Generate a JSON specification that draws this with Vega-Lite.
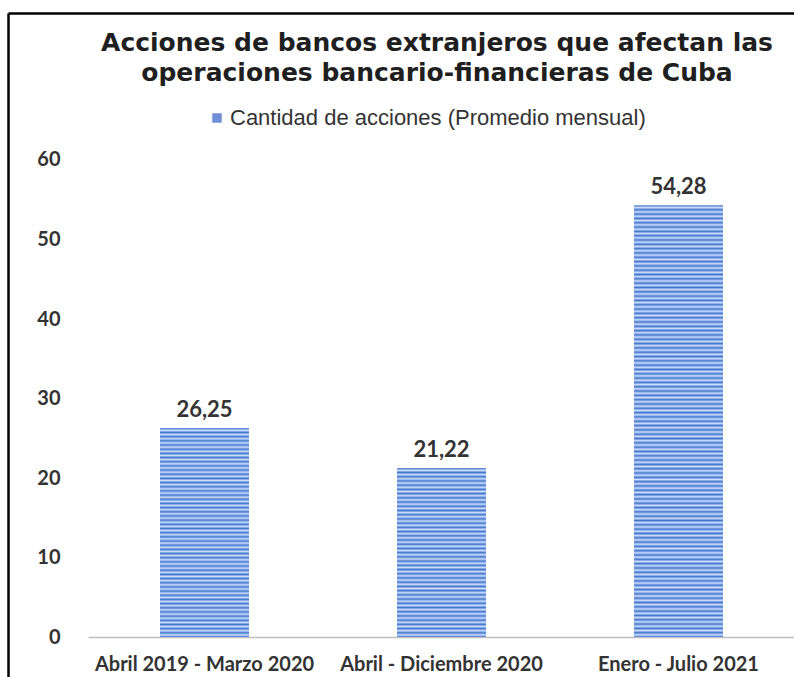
{
 "$schema": "https://vega.github.io/schema/vega-lite/v6.json",
 "width": 786,
 "height": 664,
 "autosize": {"type": "none"},
 "padding": {"left": 8, "top": 13, "right": 0, "bottom": 0},
 "background": "#ffffff",
 "config": {
  "locale": {"number": {"decimal": ",", "thousands": ".", "grouping": [3], "currency": ["", " €"]}},
  "view": {"stroke": null}
 },
 "title": {
  "text": ["Acciones de bancos extranjeros que afectan las", "operaciones bancario-financieras de Cuba"],
  "font": "DejaVu Sans", "fontSize": 25, "fontWeight": "bold", "color": "#1f1f1f",
  "anchor": "middle", "frame": "group", "offset": -83, "lineHeight": 30, "dx": 36
 },
 "data": {"values": [
  {"periodo": "Abril 2019 - Marzo 2020", "acciones": 26.25},
  {"periodo": "Abril - Diciembre 2020", "acciones": 21.22},
  {"periodo": "Enero - Julio 2021", "acciones": 54.28}
 ]},
 "encoding": {
  "x": {"field": "periodo", "type": "nominal", "sort": null,
   "scale": {"domain": ["Abril 2019 - Marzo 2020", "Abril - Diciembre 2020", "Enero - Julio 2021"], "paddingInner": 0.6245, "paddingOuter": 0.4705, "align": 0.6816},
   "axis": {"title": null, "orient": "bottom", "offset": -40, "domain": false, "ticks": false, "tickSize": 0,
    "labelPadding": 17, "labelAngle": 0, "labelFont": "Lato", "labelFontSize": 20, "labelFontWeight": "bold",
    "labelColor": "#333333", "labelBaseline": "top", "labelLimit": 300}},
  "y": {"field": "acciones", "type": "quantitative",
   "scale": {"domain": [-5.03, 78.49], "nice": false, "zero": false},
   "axis": {"title": null, "values": [0, 10, 20, 30, 40, 50, 60, 78.49],
    "labelExpr": "datum.value > 70 ? '' : datum.label",
    "domain": true, "domainColor": "#000000", "domainWidth": 2.5, "ticks": false, "tickSize": 0,
    "labelPadding": -52, "labelFont": "Lato", "labelFontSize": 20, "labelFontWeight": "bold", "labelColor": "#333333",
    "labelFlush": false, "labelOverlap": false,
    "grid": true,
    "gridColor": {"condition": [{"test": "datum.value > 70", "value": "#000000"}, {"test": "datum.value === 0", "value": "#bfbfbf"}], "value": "transparent"},
    "gridWidth": {"condition": {"test": "datum.value > 70", "value": 2.5}, "value": 1.5},
    "gridDash": {"condition": {"test": "datum.value === 0", "value": [0, 80, 706]}, "value": []}}}
 },
 "layer": [
  {
   "mark": {"type": "bar"},
   "encoding": {
    "y2": {"datum": 0},
    "color": {"datum": "Cantidad de acciones (Promedio mensual)", "type": "nominal",
     "scale": {"range": ["#6f8fd8"]},
     "legend": {"orient": "none", "legendX": 198, "legendY": 94, "title": null, "symbolType": "square", "symbolSize": 90,
      "symbolStrokeWidth": 0, "labelFont": "Liberation Sans", "labelFontSize": 22, "labelColor": "#333333",
      "labelOffset": 2, "padding": 0, "labelLimit": 600}}
   }
  },
  {
   "mark": {"type": "bar", "strokeWidth": 0},
   "encoding": {
    "y2": {"datum": 0},
    "fill": {
     "condition": [
      {"test": "datum.periodo === 'Abril 2019 - Marzo 2020'", "value": {"gradient": "linear", "x1": 0, "y1": 0, "x2": 0, "y2": 1, "stops": [
{"offset":0,"color":"#47c"},{"offset":0.01,"color":"#cdf"},{"offset":0.02,"color":"#47c"},{"offset":0.03,"color":"#cdf"},{"offset":0.04,"color":"#47c"},{"offset":0.05,"color":"#cdf"},{"offset":0.06,"color":"#47c"},{"offset":0.07,"color":"#cdf"},{"offset":0.08,"color":"#47c"},{"offset":0.09,"color":"#cdf"},
{"offset":0.1,"color":"#47c"},{"offset":0.11,"color":"#cdf"},{"offset":0.12,"color":"#47c"},{"offset":0.13,"color":"#cdf"},{"offset":0.14,"color":"#47c"},{"offset":0.15,"color":"#cdf"},{"offset":0.16,"color":"#47c"},{"offset":0.17,"color":"#cdf"},{"offset":0.18,"color":"#47c"},{"offset":0.19,"color":"#cdf"},
{"offset":0.2,"color":"#47c"},{"offset":0.21,"color":"#cdf"},{"offset":0.22,"color":"#47c"},{"offset":0.23,"color":"#cdf"},{"offset":0.24,"color":"#47c"},{"offset":0.25,"color":"#cdf"},{"offset":0.26,"color":"#47c"},{"offset":0.27,"color":"#cdf"},{"offset":0.28,"color":"#47c"},{"offset":0.29,"color":"#cdf"},
{"offset":0.3,"color":"#47c"},{"offset":0.31,"color":"#cdf"},{"offset":0.32,"color":"#47c"},{"offset":0.33,"color":"#cdf"},{"offset":0.34,"color":"#47c"},{"offset":0.35,"color":"#cdf"},{"offset":0.36,"color":"#47c"},{"offset":0.37,"color":"#cdf"},{"offset":0.38,"color":"#47c"},{"offset":0.39,"color":"#cdf"},
{"offset":0.4,"color":"#47c"},{"offset":0.41,"color":"#cdf"},{"offset":0.42,"color":"#47c"},{"offset":0.43,"color":"#cdf"},{"offset":0.44,"color":"#47c"},{"offset":0.45,"color":"#cdf"},{"offset":0.46,"color":"#47c"},{"offset":0.47,"color":"#cdf"},{"offset":0.48,"color":"#47c"},{"offset":0.49,"color":"#cdf"},
{"offset":0.5,"color":"#47c"},{"offset":0.51,"color":"#cdf"},{"offset":0.52,"color":"#47c"},{"offset":0.53,"color":"#cdf"},{"offset":0.54,"color":"#47c"},{"offset":0.55,"color":"#cdf"},{"offset":0.56,"color":"#47c"},{"offset":0.57,"color":"#cdf"},{"offset":0.58,"color":"#47c"},{"offset":0.59,"color":"#cdf"},
{"offset":0.6,"color":"#47c"},{"offset":0.61,"color":"#cdf"},{"offset":0.62,"color":"#47c"},{"offset":0.63,"color":"#cdf"},{"offset":0.64,"color":"#47c"},{"offset":0.65,"color":"#cdf"},{"offset":0.66,"color":"#47c"},{"offset":0.67,"color":"#cdf"},{"offset":0.68,"color":"#47c"},{"offset":0.69,"color":"#cdf"},
{"offset":0.7,"color":"#47c"},{"offset":0.71,"color":"#cdf"},{"offset":0.72,"color":"#47c"},{"offset":0.73,"color":"#cdf"},{"offset":0.74,"color":"#47c"},{"offset":0.75,"color":"#cdf"},{"offset":0.76,"color":"#47c"},{"offset":0.77,"color":"#cdf"},{"offset":0.78,"color":"#47c"},{"offset":0.79,"color":"#cdf"},
{"offset":0.8,"color":"#47c"},{"offset":0.81,"color":"#cdf"},{"offset":0.82,"color":"#47c"},{"offset":0.83,"color":"#cdf"},{"offset":0.84,"color":"#47c"},{"offset":0.85,"color":"#cdf"},{"offset":0.86,"color":"#47c"},{"offset":0.87,"color":"#cdf"},{"offset":0.88,"color":"#47c"},{"offset":0.89,"color":"#cdf"},
{"offset":0.9,"color":"#47c"},{"offset":0.91,"color":"#cdf"},{"offset":0.92,"color":"#47c"},{"offset":0.93,"color":"#cdf"},{"offset":0.94,"color":"#47c"},{"offset":0.95,"color":"#cdf"},{"offset":0.96,"color":"#47c"},{"offset":0.97,"color":"#cdf"},{"offset":0.98,"color":"#47c"},{"offset":0.99,"color":"#cdf"},
{"offset":1,"color":"#47c"}
      ]}},
      {"test": "datum.periodo === 'Abril - Diciembre 2020'", "value": {"gradient": "linear", "x1": 0, "y1": 0, "x2": 0, "y2": 1, "stops": [
{"offset":0,"color":"#47c"},{"offset":0.0125,"color":"#cdf"},{"offset":0.025,"color":"#47c"},{"offset":0.0375,"color":"#cdf"},{"offset":0.05,"color":"#47c"},{"offset":0.0625,"color":"#cdf"},{"offset":0.075,"color":"#47c"},{"offset":0.0875,"color":"#cdf"},
{"offset":0.1,"color":"#47c"},{"offset":0.1125,"color":"#cdf"},{"offset":0.125,"color":"#47c"},{"offset":0.1375,"color":"#cdf"},{"offset":0.15,"color":"#47c"},{"offset":0.1625,"color":"#cdf"},{"offset":0.175,"color":"#47c"},{"offset":0.1875,"color":"#cdf"},
{"offset":0.2,"color":"#47c"},{"offset":0.2125,"color":"#cdf"},{"offset":0.225,"color":"#47c"},{"offset":0.2375,"color":"#cdf"},{"offset":0.25,"color":"#47c"},{"offset":0.2625,"color":"#cdf"},{"offset":0.275,"color":"#47c"},{"offset":0.2875,"color":"#cdf"},
{"offset":0.3,"color":"#47c"},{"offset":0.3125,"color":"#cdf"},{"offset":0.325,"color":"#47c"},{"offset":0.3375,"color":"#cdf"},{"offset":0.35,"color":"#47c"},{"offset":0.3625,"color":"#cdf"},{"offset":0.375,"color":"#47c"},{"offset":0.3875,"color":"#cdf"},
{"offset":0.4,"color":"#47c"},{"offset":0.4125,"color":"#cdf"},{"offset":0.425,"color":"#47c"},{"offset":0.4375,"color":"#cdf"},{"offset":0.45,"color":"#47c"},{"offset":0.4625,"color":"#cdf"},{"offset":0.475,"color":"#47c"},{"offset":0.4875,"color":"#cdf"},
{"offset":0.5,"color":"#47c"},{"offset":0.5125,"color":"#cdf"},{"offset":0.525,"color":"#47c"},{"offset":0.5375,"color":"#cdf"},{"offset":0.55,"color":"#47c"},{"offset":0.5625,"color":"#cdf"},{"offset":0.575,"color":"#47c"},{"offset":0.5875,"color":"#cdf"},
{"offset":0.6,"color":"#47c"},{"offset":0.6125,"color":"#cdf"},{"offset":0.625,"color":"#47c"},{"offset":0.6375,"color":"#cdf"},{"offset":0.65,"color":"#47c"},{"offset":0.6625,"color":"#cdf"},{"offset":0.675,"color":"#47c"},{"offset":0.6875,"color":"#cdf"},
{"offset":0.7,"color":"#47c"},{"offset":0.7125,"color":"#cdf"},{"offset":0.725,"color":"#47c"},{"offset":0.7375,"color":"#cdf"},{"offset":0.75,"color":"#47c"},{"offset":0.7625,"color":"#cdf"},{"offset":0.775,"color":"#47c"},{"offset":0.7875,"color":"#cdf"},
{"offset":0.8,"color":"#47c"},{"offset":0.8125,"color":"#cdf"},{"offset":0.825,"color":"#47c"},{"offset":0.8375,"color":"#cdf"},{"offset":0.85,"color":"#47c"},{"offset":0.8625,"color":"#cdf"},{"offset":0.875,"color":"#47c"},{"offset":0.8875,"color":"#cdf"},
{"offset":0.9,"color":"#47c"},{"offset":0.9125,"color":"#cdf"},{"offset":0.925,"color":"#47c"},{"offset":0.9375,"color":"#cdf"},{"offset":0.95,"color":"#47c"},{"offset":0.9625,"color":"#cdf"},{"offset":0.975,"color":"#47c"},{"offset":0.9875,"color":"#cdf"},
{"offset":1,"color":"#47c"}
      ]}}
     ],
     "value": {"gradient": "linear", "x1": 0, "y1": 0, "x2": 0, "y2": 1, "stops": [
{"offset":0,"color":"#47c"},{"offset":0.005,"color":"#cdf"},{"offset":0.01,"color":"#47c"},{"offset":0.015,"color":"#cdf"},{"offset":0.02,"color":"#47c"},{"offset":0.025,"color":"#cdf"},{"offset":0.03,"color":"#47c"},{"offset":0.035,"color":"#cdf"},{"offset":0.04,"color":"#47c"},{"offset":0.045,"color":"#cdf"},
{"offset":0.05,"color":"#47c"},{"offset":0.055,"color":"#cdf"},{"offset":0.06,"color":"#47c"},{"offset":0.065,"color":"#cdf"},{"offset":0.07,"color":"#47c"},{"offset":0.075,"color":"#cdf"},{"offset":0.08,"color":"#47c"},{"offset":0.085,"color":"#cdf"},{"offset":0.09,"color":"#47c"},{"offset":0.095,"color":"#cdf"},
{"offset":0.1,"color":"#47c"},{"offset":0.105,"color":"#cdf"},{"offset":0.11,"color":"#47c"},{"offset":0.115,"color":"#cdf"},{"offset":0.12,"color":"#47c"},{"offset":0.125,"color":"#cdf"},{"offset":0.13,"color":"#47c"},{"offset":0.135,"color":"#cdf"},{"offset":0.14,"color":"#47c"},{"offset":0.145,"color":"#cdf"},
{"offset":0.15,"color":"#47c"},{"offset":0.155,"color":"#cdf"},{"offset":0.16,"color":"#47c"},{"offset":0.165,"color":"#cdf"},{"offset":0.17,"color":"#47c"},{"offset":0.175,"color":"#cdf"},{"offset":0.18,"color":"#47c"},{"offset":0.185,"color":"#cdf"},{"offset":0.19,"color":"#47c"},{"offset":0.195,"color":"#cdf"},
{"offset":0.2,"color":"#47c"},{"offset":0.205,"color":"#cdf"},{"offset":0.21,"color":"#47c"},{"offset":0.215,"color":"#cdf"},{"offset":0.22,"color":"#47c"},{"offset":0.225,"color":"#cdf"},{"offset":0.23,"color":"#47c"},{"offset":0.235,"color":"#cdf"},{"offset":0.24,"color":"#47c"},{"offset":0.245,"color":"#cdf"},
{"offset":0.25,"color":"#47c"},{"offset":0.255,"color":"#cdf"},{"offset":0.26,"color":"#47c"},{"offset":0.265,"color":"#cdf"},{"offset":0.27,"color":"#47c"},{"offset":0.275,"color":"#cdf"},{"offset":0.28,"color":"#47c"},{"offset":0.285,"color":"#cdf"},{"offset":0.29,"color":"#47c"},{"offset":0.295,"color":"#cdf"},
{"offset":0.3,"color":"#47c"},{"offset":0.305,"color":"#cdf"},{"offset":0.31,"color":"#47c"},{"offset":0.315,"color":"#cdf"},{"offset":0.32,"color":"#47c"},{"offset":0.325,"color":"#cdf"},{"offset":0.33,"color":"#47c"},{"offset":0.335,"color":"#cdf"},{"offset":0.34,"color":"#47c"},{"offset":0.345,"color":"#cdf"},
{"offset":0.35,"color":"#47c"},{"offset":0.355,"color":"#cdf"},{"offset":0.36,"color":"#47c"},{"offset":0.365,"color":"#cdf"},{"offset":0.37,"color":"#47c"},{"offset":0.375,"color":"#cdf"},{"offset":0.38,"color":"#47c"},{"offset":0.385,"color":"#cdf"},{"offset":0.39,"color":"#47c"},{"offset":0.395,"color":"#cdf"},
{"offset":0.4,"color":"#47c"},{"offset":0.405,"color":"#cdf"},{"offset":0.41,"color":"#47c"},{"offset":0.415,"color":"#cdf"},{"offset":0.42,"color":"#47c"},{"offset":0.425,"color":"#cdf"},{"offset":0.43,"color":"#47c"},{"offset":0.435,"color":"#cdf"},{"offset":0.44,"color":"#47c"},{"offset":0.445,"color":"#cdf"},
{"offset":0.45,"color":"#47c"},{"offset":0.455,"color":"#cdf"},{"offset":0.46,"color":"#47c"},{"offset":0.465,"color":"#cdf"},{"offset":0.47,"color":"#47c"},{"offset":0.475,"color":"#cdf"},{"offset":0.48,"color":"#47c"},{"offset":0.485,"color":"#cdf"},{"offset":0.49,"color":"#47c"},{"offset":0.495,"color":"#cdf"},
{"offset":0.5,"color":"#47c"},{"offset":0.505,"color":"#cdf"},{"offset":0.51,"color":"#47c"},{"offset":0.515,"color":"#cdf"},{"offset":0.52,"color":"#47c"},{"offset":0.525,"color":"#cdf"},{"offset":0.53,"color":"#47c"},{"offset":0.535,"color":"#cdf"},{"offset":0.54,"color":"#47c"},{"offset":0.545,"color":"#cdf"},
{"offset":0.55,"color":"#47c"},{"offset":0.555,"color":"#cdf"},{"offset":0.56,"color":"#47c"},{"offset":0.565,"color":"#cdf"},{"offset":0.57,"color":"#47c"},{"offset":0.575,"color":"#cdf"},{"offset":0.58,"color":"#47c"},{"offset":0.585,"color":"#cdf"},{"offset":0.59,"color":"#47c"},{"offset":0.595,"color":"#cdf"},
{"offset":0.6,"color":"#47c"},{"offset":0.605,"color":"#cdf"},{"offset":0.61,"color":"#47c"},{"offset":0.615,"color":"#cdf"},{"offset":0.62,"color":"#47c"},{"offset":0.625,"color":"#cdf"},{"offset":0.63,"color":"#47c"},{"offset":0.635,"color":"#cdf"},{"offset":0.64,"color":"#47c"},{"offset":0.645,"color":"#cdf"},
{"offset":0.65,"color":"#47c"},{"offset":0.655,"color":"#cdf"},{"offset":0.66,"color":"#47c"},{"offset":0.665,"color":"#cdf"},{"offset":0.67,"color":"#47c"},{"offset":0.675,"color":"#cdf"},{"offset":0.68,"color":"#47c"},{"offset":0.685,"color":"#cdf"},{"offset":0.69,"color":"#47c"},{"offset":0.695,"color":"#cdf"},
{"offset":0.7,"color":"#47c"},{"offset":0.705,"color":"#cdf"},{"offset":0.71,"color":"#47c"},{"offset":0.715,"color":"#cdf"},{"offset":0.72,"color":"#47c"},{"offset":0.725,"color":"#cdf"},{"offset":0.73,"color":"#47c"},{"offset":0.735,"color":"#cdf"},{"offset":0.74,"color":"#47c"},{"offset":0.745,"color":"#cdf"},
{"offset":0.75,"color":"#47c"},{"offset":0.755,"color":"#cdf"},{"offset":0.76,"color":"#47c"},{"offset":0.765,"color":"#cdf"},{"offset":0.77,"color":"#47c"},{"offset":0.775,"color":"#cdf"},{"offset":0.78,"color":"#47c"},{"offset":0.785,"color":"#cdf"},{"offset":0.79,"color":"#47c"},{"offset":0.795,"color":"#cdf"},
{"offset":0.8,"color":"#47c"},{"offset":0.805,"color":"#cdf"},{"offset":0.81,"color":"#47c"},{"offset":0.815,"color":"#cdf"},{"offset":0.82,"color":"#47c"},{"offset":0.825,"color":"#cdf"},{"offset":0.83,"color":"#47c"},{"offset":0.835,"color":"#cdf"},{"offset":0.84,"color":"#47c"},{"offset":0.845,"color":"#cdf"},
{"offset":0.85,"color":"#47c"},{"offset":0.855,"color":"#cdf"},{"offset":0.86,"color":"#47c"},{"offset":0.865,"color":"#cdf"},{"offset":0.87,"color":"#47c"},{"offset":0.875,"color":"#cdf"},{"offset":0.88,"color":"#47c"},{"offset":0.885,"color":"#cdf"},{"offset":0.89,"color":"#47c"},{"offset":0.895,"color":"#cdf"},
{"offset":0.9,"color":"#47c"},{"offset":0.905,"color":"#cdf"},{"offset":0.91,"color":"#47c"},{"offset":0.915,"color":"#cdf"},{"offset":0.92,"color":"#47c"},{"offset":0.925,"color":"#cdf"},{"offset":0.93,"color":"#47c"},{"offset":0.935,"color":"#cdf"},{"offset":0.94,"color":"#47c"},{"offset":0.945,"color":"#cdf"},
{"offset":0.95,"color":"#47c"},{"offset":0.955,"color":"#cdf"},{"offset":0.96,"color":"#47c"},{"offset":0.965,"color":"#cdf"},{"offset":0.97,"color":"#47c"},{"offset":0.975,"color":"#cdf"},{"offset":0.98,"color":"#47c"},{"offset":0.985,"color":"#cdf"},{"offset":0.99,"color":"#47c"},{"offset":0.995,"color":"#cdf"},
{"offset":1,"color":"#47c"}
     ]}
    }
   }
  },
  {
   "mark": {"type": "text", "baseline": "bottom", "dy": -6, "font": "Lato", "fontSize": 22, "fontWeight": "bold", "color": "#333333"},
   "encoding": {"text": {"field": "acciones", "type": "quantitative", "format": ".2f"}}
  }
 ]
}
